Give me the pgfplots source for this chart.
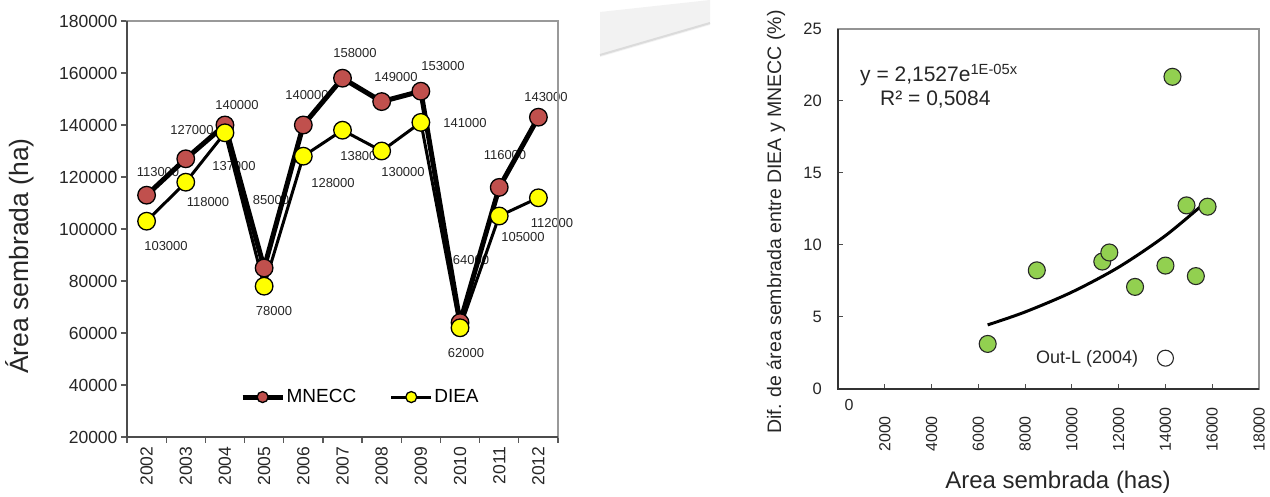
\documentclass[border=0pt]{standalone}
\usepackage{pgfplots}
\pgfplotsset{compat=1.18}
\usepackage{fontspec}
\setmainfont{Liberation Sans}
\definecolor{mred}{HTML}{C0504D}
\definecolor{myel}{HTML}{FFFF00}
\definecolor{mgreen}{HTML}{92D050}
\newcommand{\fs}[1]{\fontsize{#1}{#1}\selectfont}
\begin{document}
\begin{tikzpicture}[x=1pt,y=1pt]
\useasboundingbox (0,0) rectangle (1270,497);
% decorative grey band
\fill[gray!10] (600,485) -- (710,497) -- (710,472) -- (600,440) -- cycle;
\draw[gray!28, line width=2pt] (600,442) -- (710,474);
% data labels (left chart)
\begin{scope}[every node/.style={font=\fs{13}, text=black!85, inner sep=0pt}]
\node at (158,325) {113000};
\node at (192,367) {127000};
\node at (237,392) {140000};
\node at (271,297) {85000};
\node at (307,402) {140000};
\node at (355,444) {158000};
\node at (396,420) {149000};
\node at (443,431) {153000};
\node at (471,237) {64000};
\node at (505,342) {116000};
\node at (546,400) {143000};
\node at (166,251) {103000};
\node at (208,295) {118000};
\node at (234,331) {137000};
\node at (274,186) {78000};
\node at (333,314) {128000};
\node at (362,341) {138000};
\node at (403,325) {130000};
\node at (465,374) {141000};
\node at (466,144) {62000};
\node at (523,260) {105000};
\node at (552,274) {112000};
\end{scope}
\begin{axis}[
  at={(127pt,60pt)}, anchor=south west, scale only axis,
  width=431pt, height=416pt,
  xmin=-0.5, xmax=10.5, ymin=20000, ymax=180000,
  ytick={20000,40000,60000,80000,100000,120000,140000,160000,180000},
  xtick={0,...,10},
  xticklabels={2002,2003,2004,2005,2006,2007,2008,2009,2010,2011,2012},
  minor xtick={-0.5,0.5,...,10.5},
  xtick pos=lower, ytick pos=left,
  major x tick style={draw=none},
  minor x tick style={draw=black!65, line width=1.2pt},
  y tick style={draw=black!65, line width=1.2pt},
  tick align=outside, major tick length=6pt, minor tick length=6pt,
  scaled y ticks=false,
  /pgf/number format/assume math mode=true,
  yticklabel style={/pgf/number format/fixed, /pgf/number format/1000 sep={}, font=\fs{17.5}, text=black!85},
  xticklabel style={rotate=90, anchor=east, font=\fs{17.5}, text=black!85},
  axis line style={draw=gray!80, line width=1.2pt},
  clip=false,
  legend style={draw=none, fill=none, at={(0.262,0.096)}, anchor=west,
    legend columns=2, font=\fs{19}, inner sep=0pt,
    /tikz/every even column/.append style={column sep=32pt},
    nodes={inner sep=1.5pt}},
  legend image code/.code={\draw[mark repeat=2,mark phase=2,#1,mark size=5.5pt] plot coordinates {(0pt,0pt)(20pt,0pt)(40pt,0pt)};},
]
\draw[black!70, line width=1.8pt] (rel axis cs:0,1) -- (rel axis cs:0,0) -- (rel axis cs:1,0);
\addplot[black, line width=5pt, mark=*, mark size=8.8pt,
  mark options={fill=mred, draw=black, line width=1.3pt}]
  coordinates {(0,113000)(1,127000)(2,140000)(3,85000)(4,140000)(5,158000)(6,149000)(7,153000)(8,64000)(9,116000)(10,143000)};
\addlegendentry{MNECC}
\addplot[black, line width=3pt, mark=*, mark size=8.8pt,
  mark options={fill=myel, draw=black, line width=1.3pt}]
  coordinates {(0,103000)(1,118000)(2,137000)(3,78000)(4,128000)(5,138000)(6,130000)(7,141000)(8,62000)(9,105000)(10,112000)};
\addlegendentry{DIEA}
\end{axis}
\node[rotate=90, font=\fs{26.5}, text=black!85] at (20,241) {Área sembrada (ha)};
% right chart
\node[font=\fs{21}, anchor=west, inner sep=0pt, text=black!85] at (860,422) {y = 2,1527e\textsuperscript{1E-05x}};
\node[font=\fs{21}, anchor=west, inner sep=0pt, text=black!85] at (880,397) {R² = 0,5084};
\node[font=\fs{18}, anchor=west, inner sep=0pt, text=black!85] at (1036,138) {Out-L (2004)};
\begin{axis}[
  at={(838pt,108pt)}, anchor=south west, scale only axis,
  width=421pt, height=360pt,
  xmin=0, xmax=18000, ymin=0, ymax=25,
  xtick={2000,4000,...,18000}, ytick={0,5,...,25},
  xtick pos=lower, ytick pos=left,
  scaled x ticks=false, scaled y ticks=false,
  tick align=inside, major tick length=5pt,
  tick style={draw=black!70, line width=1pt},
  /pgf/number format/assume math mode=true,
  xticklabel={\makebox[44.5pt][l]{\pgfmathprintnumber[fixed,1000 sep={}]{\tick}}},
  xticklabel style={rotate=90, anchor=east, font=\fs{16}, text=black!85, inner sep=0pt},
  xticklabel shift=18pt,
  yticklabel style={font=\fs{16.5}, text=black!85, inner sep=0pt},
  yticklabel shift=16pt,
  axis line style={draw=gray!85, line width=1.2pt},
  clip=false,
]
\draw[black!80, line width=1.6pt] (rel axis cs:0,1) -- (rel axis cs:0,0) -- (rel axis cs:1,0);
\addplot[black, line width=3pt, smooth]
  coordinates {(6400,4.45)(8000,5.35)(10000,6.73)(12000,8.46)(14000,10.65)(15800,13.09)};
\addplot[only marks, mark=*, mark size=8.5pt,
  mark options={fill=mgreen, draw=black!85, line width=1.1pt}]
  coordinates {(11300,8.85)(12700,7.09)(8500,8.24)(14000,8.57)(15800,12.66)(14900,12.75)(15300,7.84)(6400,3.13)(11600,9.48)(14300,21.68)};
\addplot[only marks, mark=*, mark size=8pt,
  mark options={fill=white, draw=black!85, line width=1.1pt}]
  coordinates {(14000,2.14)};
\end{axis}
\node[font=\fs{16}, text=black!85] at (849,92) {0};
\node[rotate=90, font=\fs{19.5}, text=black!85] at (776,275) {Dif. de área sembrada entre DIEA y MNECC (\%)};
\node[font=\fs{24}, text=black!85] at (1058,15) {Area sembrada (has)};
\end{tikzpicture}
\end{document}
